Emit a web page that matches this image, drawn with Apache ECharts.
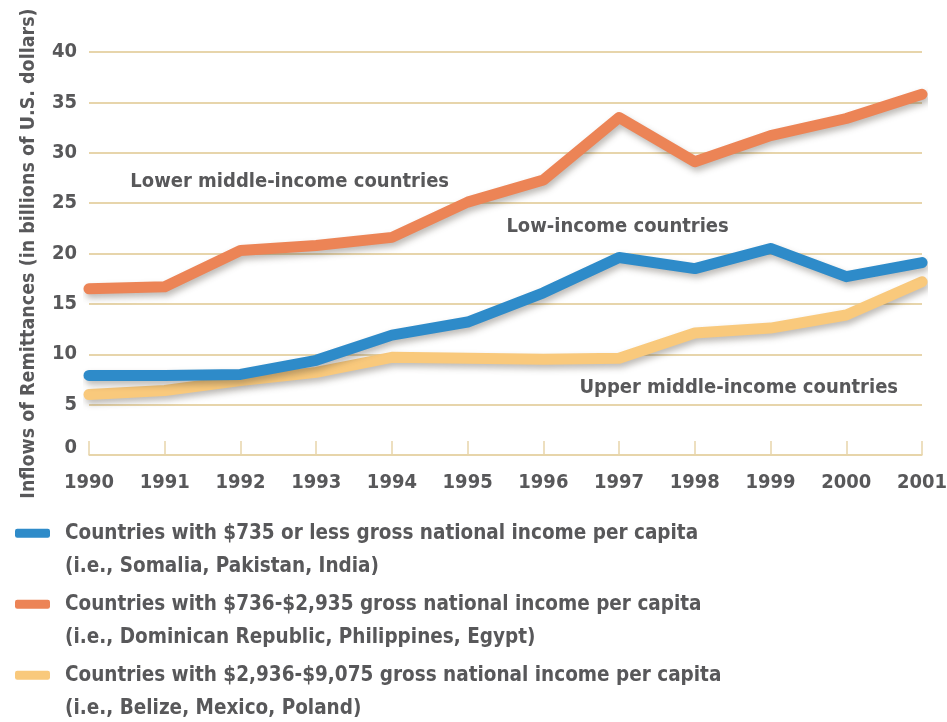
<!DOCTYPE html>
<html>
<head>
<meta charset="utf-8">
<script src="https://cdn.jsdelivr.net/npm/echarts@6/dist/echarts.min.js"></script>
<style>
html,body{margin:0;padding:0;background:#fff;}
#chart{width:947px;height:722px;}
</style>
</head>
<body>
<div id="chart"></div>
<script>
var years = [1990, 1991, 1992, 1993, 1994, 1995, 1996, 1997, 1998, 1999, 2000, 2001];
var lowIncome = [7.9, 7.9, 8.0, 9.4, 11.9, 13.2, 16.1, 19.6, 18.5, 20.5, 17.7, 19.1];
var lowerMiddle = [16.5, 16.7, 20.3, 20.8, 21.6, 25.1, 27.3, 33.5, 29.1, 31.7, 33.4, 35.8];
var upperMiddle = [6.0, 6.4, 7.4, 8.2, 9.7, 9.6, 9.5, 9.6, 12.1, 12.6, 13.9, 17.2];
var yTicks = [0, 5, 10, 15, 20, 25, 30, 35, 40];

var seriesNames = [
  'Countries with $735 or less gross national income per capita',
  'Countries with $736-$2,935 gross national income per capita',
  'Countries with $2,936-$9,075 gross national income per capita'
];
var seriesSubs = [
  '(i.e., Somalia, Pakistan, India)',
  '(i.e., Dominican Republic, Philippines, Egypt)',
  '(i.e., Belize, Mexico, Poland)'
];
var annotationTexts = ['Low-income countries', 'Lower middle-income countries', 'Upper middle-income countries'];
var annotationCoords = [[1996.98, 22.65], [1992.65, 27.1], [1998.58, 6.65]];

var colors = ['#2e8bc9', '#ec8456', '#f9c97c'];
var textColor = '#58585a';
var gridColor = '#e7d5ab';
var fontFam = '"DejaVu Sans Condensed", "Liberation Sans Narrow", sans-serif';

function pairs(vals) { return years.map(function (y, i) { return [y, vals[i]]; }); }

var valueSets = [lowIncome, lowerMiddle, upperMiddle];
var zs = [3, 4, 2];

var series = valueSets.map(function (vals, i) {
  return {
    name: seriesNames[i],
    type: 'line',
    data: pairs(vals),
    z: zs[i],
    symbol: 'none',
    smooth: false,
    color: colors[i],
    lineStyle: {
      width: 11, color: colors[i], cap: 'round', join: 'round',
      shadowColor: 'rgba(70,60,50,0.35)', shadowBlur: 6, shadowOffsetX: 2, shadowOffsetY: 4
    },
    markPoint: {
      symbol: 'circle', symbolSize: 1,
      itemStyle: { color: 'rgba(0,0,0,0)' },
      label: {
        show: true, position: 'inside', formatter: annotationTexts[i],
        color: textColor, fontFamily: fontFam, fontWeight: 'bold', fontSize: 20
      },
      data: [{ coord: annotationCoords[i] }]
    }
  };
});

var legendTops = [483, 554, 625];
var legends = seriesNames.map(function (n, i) {
  return {
    data: [n],
    orient: 'vertical',
    left: 15,
    top: legendTops[i],
    padding: 0,
    itemWidth: 35,
    itemHeight: 9,
    icon: 'roundRect',
    selectedMode: false,
    formatter: function (name) { return '\n' + name + '\n' + seriesSubs[seriesNames.indexOf(name)]; },
    textStyle: {
      color: textColor, fontFamily: fontFam, fontWeight: 'bold', fontSize: 20.5,
      lineHeight: 33.5, padding: [0, 0, 0, 10]
    }
  };
});

var chart = echarts.init(document.getElementById('chart'), null, { renderer: 'canvas' });
chart.setOption({
  animation: false,
  backgroundColor: '#fff',
  grid: { left: 89, right: 25, top: 52, bottom: 267, containLabel: false, outerBoundsMode: 'none' },
  legend: legends,
  xAxis: {
    type: 'value', min: years[0], max: years[years.length - 1], interval: 1,
    axisLine: { show: true, lineStyle: { color: gridColor, width: 1.5 } },
    axisTick: { show: true, inside: true, length: 14, lineStyle: { color: gridColor, width: 1.5 } },
    splitLine: { show: false },
    axisLabel: {
      margin: 18, color: textColor, fontFamily: fontFam, fontWeight: 'bold', fontSize: 20,
      formatter: function (v) { return String(v); }
    }
  },
  yAxis: {
    type: 'value', min: yTicks[0], max: yTicks[yTicks.length - 1], interval: 5,
    name: 'Inflows of Remittances (in billions of U.S. dollars)',
    nameLocation: 'middle', nameRotate: 90, nameGap: 50,
    nameTextStyle: { color: textColor, fontFamily: fontFam, fontWeight: 'bold', fontSize: 19.5 },
    axisLine: { show: false },
    axisTick: { show: false },
    splitLine: { show: true, lineStyle: { color: gridColor, width: 2 } },
    axisLabel: {
      margin: 12, color: textColor, fontFamily: fontFam, fontWeight: 'bold', fontSize: 20,
      formatter: function (v) { return v === 0 ? '{z|0}' : String(v); },
      rich: { z: { color: textColor, fontFamily: fontFam, fontWeight: 'bold', fontSize: 20, padding: [0, 0, 14, 0] } }
    }
  },
  series: series
});
</script>
</body>
</html>
